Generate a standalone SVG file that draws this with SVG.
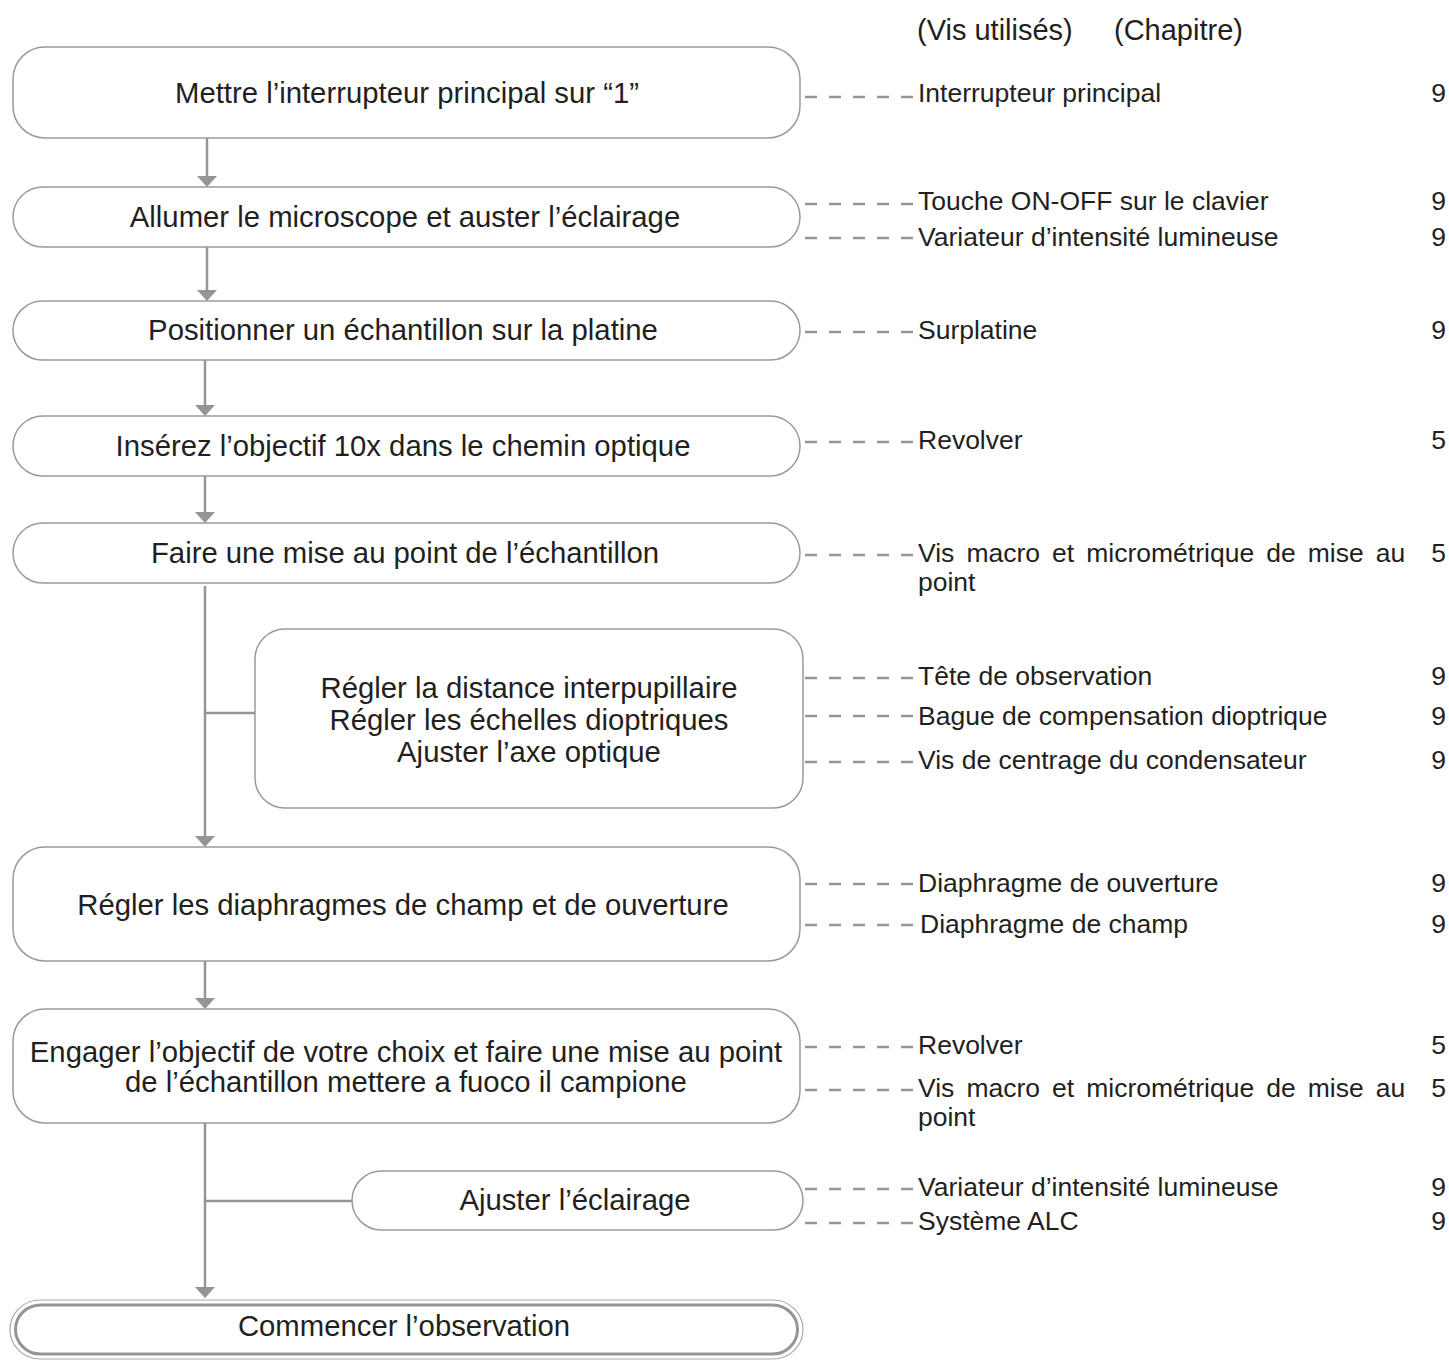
<svg xmlns="http://www.w3.org/2000/svg" width="1449" height="1360" viewBox="0 0 1449 1360">
<style>
  .box { fill: #ffffff; stroke: #9a9a9c; stroke-width: 1.5; }
  .bt { font-family: "Liberation Sans", Arial, sans-serif; font-size: 29.3px; fill: #231f20; text-anchor: middle; }
  .rt { font-family: "Liberation Sans", Arial, sans-serif; font-size: 26.5px; fill: #231f20; }
  .num { font-family: "Liberation Sans", Arial, sans-serif; font-size: 26.5px; fill: #231f20; text-anchor: end; }
  .hd { font-family: "Liberation Sans", Arial, sans-serif; font-size: 29px; fill: #231f20; }
  .flow { stroke: #939598; stroke-width: 2.5; fill: none; }
  .dash { stroke: #939598; stroke-width: 2.5; stroke-dasharray: 12 12; fill: none; }
</style>
<defs>
  <marker id="ah" viewBox="0 0 11 20" markerWidth="11" markerHeight="20" refX="3" refY="10" orient="auto" markerUnits="userSpaceOnUse">
    <path d="M0,0 L11,10 L0,20 z" fill="#939598"/>
  </marker>
</defs>
<rect width="1449" height="1360" fill="#ffffff"/>

<g id="header">
  <text class="hd" x="917" y="40">(Vis utilisés)</text>
  <text class="hd" x="1114" y="40">(Chapitre)</text>
</g>

<g id="connectors">
  <line class="flow" x1="207" y1="138" x2="207" y2="179" marker-end="url(#ah)"/>
  <line class="flow" x1="207" y1="247" x2="207" y2="293" marker-end="url(#ah)"/>
  <line class="flow" x1="205" y1="360" x2="205" y2="408" marker-end="url(#ah)"/>
  <line class="flow" x1="205" y1="476" x2="205" y2="515" marker-end="url(#ah)"/>
  <line class="flow" x1="205" y1="586" x2="205" y2="839" marker-end="url(#ah)"/>
  <line class="flow" x1="205" y1="713" x2="255" y2="713"/>
  <line class="flow" x1="205" y1="961" x2="205" y2="1001" marker-end="url(#ah)"/>
  <line class="flow" x1="205" y1="1123" x2="205" y2="1290" marker-end="url(#ah)"/>
  <line class="flow" x1="205" y1="1201" x2="352" y2="1201"/>
  <line class="dash" x1="805" y1="97" x2="914" y2="97"/>
  <line class="dash" x1="805" y1="204" x2="914" y2="204"/>
  <line class="dash" x1="805" y1="238" x2="914" y2="238"/>
  <line class="dash" x1="805" y1="332" x2="914" y2="332"/>
  <line class="dash" x1="805" y1="442" x2="914" y2="442"/>
  <line class="dash" x1="805" y1="555" x2="914" y2="555"/>
  <line class="dash" x1="805" y1="678" x2="914" y2="678"/>
  <line class="dash" x1="805" y1="716" x2="914" y2="716"/>
  <line class="dash" x1="805" y1="762" x2="914" y2="762"/>
  <line class="dash" x1="805" y1="884" x2="914" y2="884"/>
  <line class="dash" x1="805" y1="925" x2="914" y2="925"/>
  <line class="dash" x1="805" y1="1047" x2="914" y2="1047"/>
  <line class="dash" x1="805" y1="1090" x2="914" y2="1090"/>
  <line class="dash" x1="805" y1="1189" x2="914" y2="1189"/>
  <line class="dash" x1="805" y1="1223" x2="914" y2="1223"/>
</g>

<g id="n1">
  <rect class="box" x="13" y="47" width="787" height="91" rx="32" ry="32"/>
  <text class="bt" x="407" y="103">Mettre l’interrupteur principal sur “1”</text>
</g>
<g id="n2">
  <rect class="box" x="13" y="187" width="787" height="60" rx="30" ry="30"/>
  <text class="bt" x="405" y="227">Allumer le microscope et auster l’éclairage</text>
</g>
<g id="n3">
  <rect class="box" x="13" y="301" width="787" height="59" rx="29.5" ry="29.5"/>
  <text class="bt" x="403" y="340">Positionner un échantillon sur la platine</text>
</g>
<g id="n4">
  <rect class="box" x="13" y="416" width="787" height="60" rx="30" ry="30"/>
  <text class="bt" x="403" y="456">Insérez l’objectif 10x dans le chemin optique</text>
</g>
<g id="n5">
  <rect class="box" x="13" y="523" width="787" height="60" rx="30" ry="30"/>
  <text class="bt" x="405" y="563">Faire une mise au point de l’échantillon</text>
</g>
<g id="n6">
  <rect class="box" x="255" y="629" width="548" height="179" rx="30" ry="30"/>
  <text class="bt" x="529" y="698">Régler la distance interpupillaire</text>
  <text class="bt" x="529" y="730">Régler les échelles dioptriques</text>
  <text class="bt" x="529" y="762">Ajuster l’axe optique</text>
</g>
<g id="n7">
  <rect class="box" x="13" y="847" width="787" height="114" rx="32" ry="32"/>
  <text class="bt" x="403" y="915">Régler les diaphragmes de champ et de ouverture</text>
</g>
<g id="n8">
  <rect class="box" x="13" y="1009" width="787" height="114" rx="32" ry="32"/>
  <text class="bt" x="406" y="1062">Engager l’objectif de votre choix et faire une mise au point</text>
  <text class="bt" x="406" y="1092">de l’échantillon mettere a fuoco il campione</text>
</g>
<g id="n9">
  <rect class="box" x="352" y="1171" width="451" height="59" rx="29.5" ry="29.5"/>
  <text class="bt" x="575" y="1210">Ajuster l’éclairage</text>
</g>
<g id="n10">
  <rect x="10" y="1300" width="793" height="59" rx="30" ry="30" fill="#ffffff" stroke="#a7a9ac" stroke-width="1.2"/>
  <rect x="15.5" y="1305" width="782" height="49" rx="25" ry="25" fill="#ffffff" stroke="#939598" stroke-width="3"/>
  <text class="bt" x="404" y="1336">Commencer l’observation</text>
</g>

<g id="parts">
  <text class="rt" x="918" y="102">Interrupteur principal</text>
  <text class="num" x="1446" y="102">9</text>
  <text class="rt" x="918" y="210">Touche ON-OFF sur le clavier</text>
  <text class="num" x="1446" y="210">9</text>
  <text class="rt" x="918" y="246">Variateur d’intensité lumineuse</text>
  <text class="num" x="1446" y="246">9</text>
  <text class="rt" x="918" y="339">Surplatine</text>
  <text class="num" x="1446" y="339">9</text>
  <text class="rt" x="918" y="449">Revolver</text>
  <text class="num" x="1446" y="449">5</text>
  <text class="rt" x="918" y="562" word-spacing="4.7">Vis macro et micrométrique de mise au</text>
  <text class="rt" x="918" y="591">point</text>
  <text class="num" x="1446" y="562">5</text>
  <text class="rt" x="918" y="685">Tête de observation</text>
  <text class="num" x="1446" y="685">9</text>
  <text class="rt" x="918" y="725">Bague de compensation dioptrique</text>
  <text class="num" x="1446" y="725">9</text>
  <text class="rt" x="918" y="769">Vis de centrage du condensateur</text>
  <text class="num" x="1446" y="769">9</text>
  <text class="rt" x="918" y="892">Diaphragme de ouverture</text>
  <text class="num" x="1446" y="892">9</text>
  <text class="rt" x="920" y="933">Diaphragme de champ</text>
  <text class="num" x="1446" y="933">9</text>
  <text class="rt" x="918" y="1054">Revolver</text>
  <text class="num" x="1446" y="1054">5</text>
  <text class="rt" x="918" y="1097" word-spacing="4.7">Vis macro et micrométrique de mise au</text>
  <text class="rt" x="918" y="1126">point</text>
  <text class="num" x="1446" y="1097">5</text>
  <text class="rt" x="918" y="1196">Variateur d’intensité lumineuse</text>
  <text class="num" x="1446" y="1196">9</text>
  <text class="rt" x="918" y="1230">Système ALC</text>
  <text class="num" x="1446" y="1230">9</text>
</g>
</svg>
